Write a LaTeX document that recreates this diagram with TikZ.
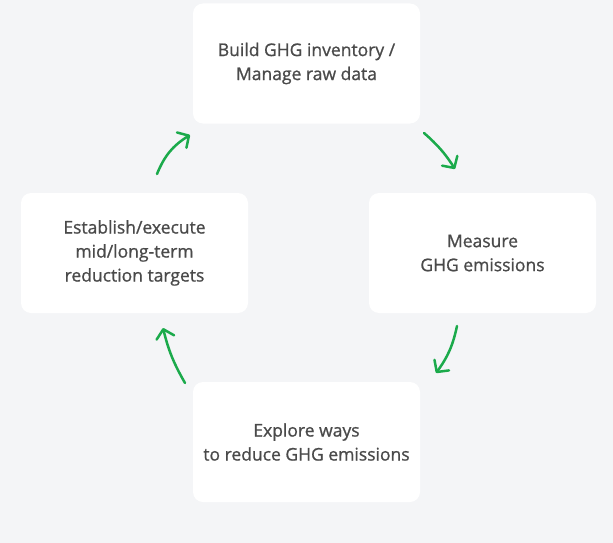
\documentclass[tikz,border=0pt]{standalone}
\usepackage{fontspec}
\setmainfont{Open Sans}[FakeBold=0.9]
\usetikzlibrary{arrows.meta}
\definecolor{bg}{HTML}{F4F5F7}
\definecolor{txt}{HTML}{4A4A4A}
\definecolor{grn}{HTML}{1BAA4B}
\tikzset{
  card/.style={fill=white, rounded corners=10pt, minimum width=227pt, minimum height=120pt,
    align=center, text=txt, font=\fontsize{17.5}{24}\selectfont, inner sep=0pt},
  cyc/.style={draw=grn, line width=2.5pt, line cap=round,
    -{Straight Barb[length=8.5pt,width=18pt,line join=round,line cap=round]}}
}
\begin{document}
\begin{tikzpicture}[x=1pt,y=-1pt]
\fill[bg] (0,0) rectangle (613,543);
\useasboundingbox (0,0) rectangle (613,543);
\node[card] (top) at (306.5,63.5) {Build GHG inventory /\\Manage raw data};
\node[card] (right) at (482.5,253) {Measure\\GHG emissions};
\node[card] (bottom) at (306.5,442) {Explore ways\\to reduce GHG emissions};
\node[card] (left) at (134.5,253) {Establish/execute\\mid/long-term\\reduction targets};
\coordinate (a1s) at (157,174); \coordinate (a1e) at (190,135);
\coordinate (a2s) at (424,133); \coordinate (a2e) at (455,169);
\coordinate (a3s) at (457,326); \coordinate (a3e) at (436,373);
\coordinate (a4s) at (185,383); \coordinate (a4e) at (163,328);
\draw[cyc] (a1s) to[bend left=18] (a1e);
\draw[cyc] (a2s) to[bend left=8] (a2e);
\draw[cyc] (a3s) to[bend left=12] (a3e);
\draw[cyc] (a4s) to[bend left=8] (a4e);
\end{tikzpicture}
\end{document}
